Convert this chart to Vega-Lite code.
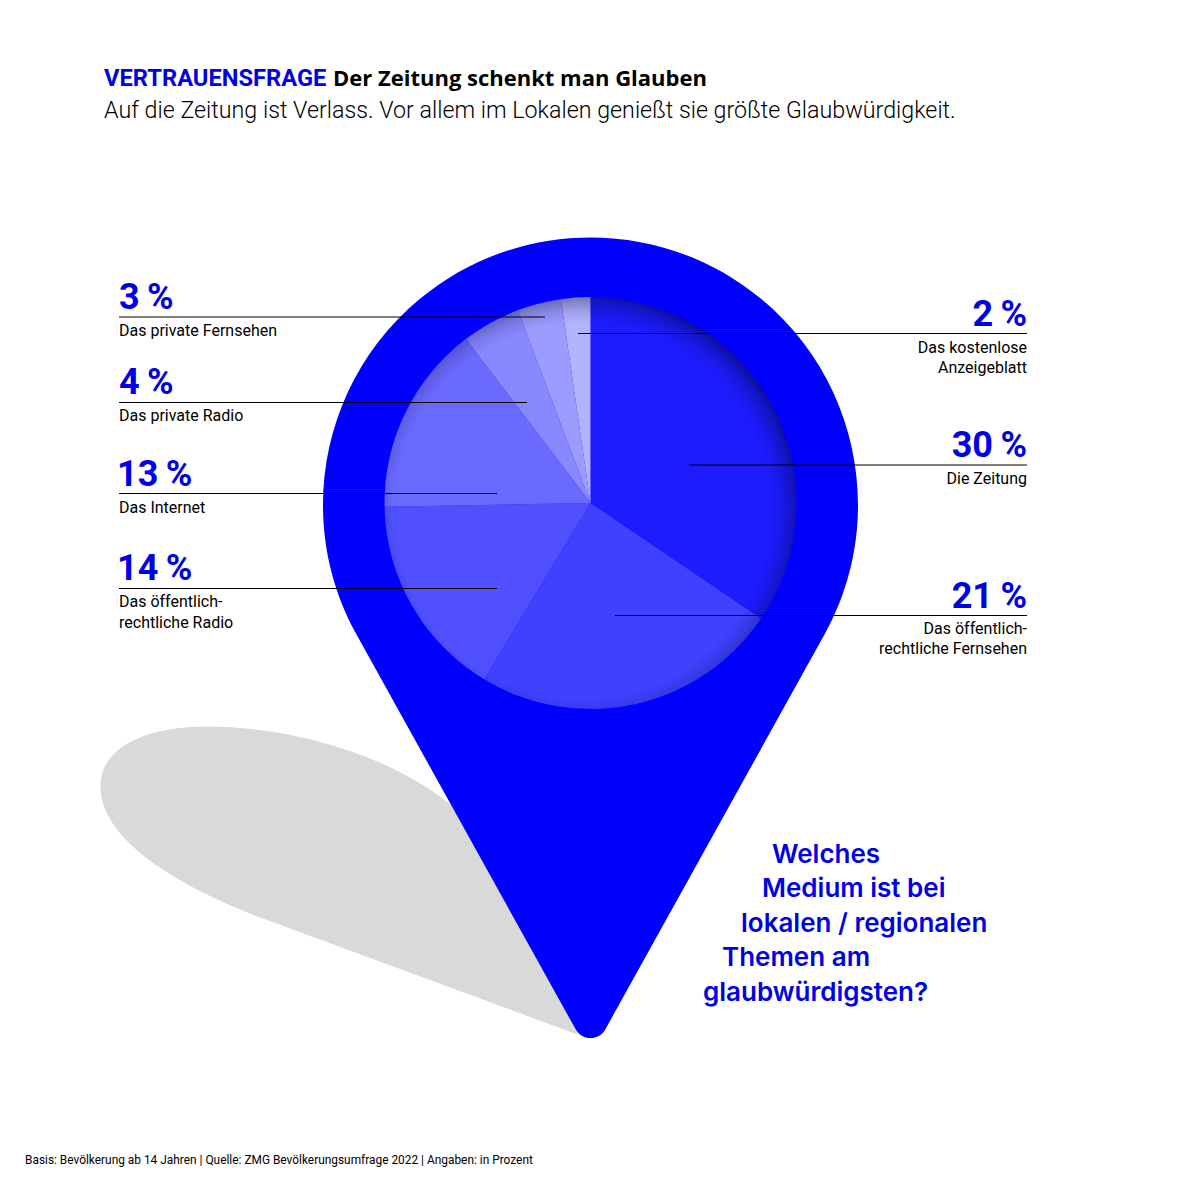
{"$schema":"https://vega.github.io/schema/vega-lite/v6.json","width":1177,"height":1177,"autosize":"none","padding":0,"background":"#ffffff","view":{"stroke":null},
"config":{"axis":{"disable":true}},
"datasets":{
"slices":[{"medium":"Die Zeitung","value":30,"rank":1},{"medium":"Das öffentlich-rechtliche Fernsehen","value":21,"rank":2},{"medium":"Das öffentlich-rechtliche Radio","value":14,"rank":3},{"medium":"Das Internet","value":13,"rank":4},{"medium":"Das private Radio","value":4,"rank":5},{"medium":"Das private Fernsehen","value":3,"rank":6},{"medium":"Das kostenlose Anzeigeblatt","value":2,"rank":7}],
"leaders":[{"medium":"Das private Fernsehen","a":119,"b":545,"c":317},{"medium":"Das private Radio","a":119,"b":527,"c":402.5},{"medium":"Das Internet","a":119,"b":497,"c":493.5},{"medium":"Das öffentlich-rechtliche Radio","a":119,"b":497,"c":588.5},{"medium":"Das kostenlose Anzeigeblatt","a":578,"b":1027,"c":333.5},{"medium":"Die Zeitung","a":689,"b":1027,"c":465},{"medium":"Das öffentlich-rechtliche Fernsehen","a":615,"b":1027,"c":615.5}],
"pctL":[{"t":"3\u2009%","a":119,"c":309},{"t":"4\u2009%","a":119,"c":394},{"t":"13\u2009%","a":117,"c":486},{"t":"14\u2009%","a":117,"c":580}],
"pctR":[{"t":"2\u2009%","a":1027,"c":326},{"t":"30\u2009%","a":1027,"c":457},{"t":"21\u2009%","a":1027,"c":608}],
"capL":[{"t":"Das private Fernsehen","a":119,"c":336},{"t":"Das private Radio","a":119,"c":421},{"t":"Das Internet","a":119,"c":513},{"t":"Das öffentlich-","a":119,"c":607},{"t":"rechtliche Radio","a":119,"c":628}],
"capR":[{"t":"Das kostenlose","a":1027,"c":353},{"t":"Anzeigeblatt","a":1027,"c":373},{"t":"Die Zeitung","a":1027,"c":484},{"t":"Das öffentlich-","a":1027,"c":634},{"t":"rechtliche Fernsehen","a":1027,"c":654}],
"question":[{"t":"Welches","a":772,"c":863},{"t":"Medium ist bei","a":762,"c":897},{"t":"lokalen / regionalen","a":741,"c":932},{"t":"Themen am","a":722,"c":966},{"t":"glaubwürdigsten?","a":703,"c":1001}]
},
"encoding":{
"x":{"field":"a","type":"quantitative","scale":{"domain":[0,1177],"range":[0,1177]},"axis":null},
"y":{"field":"c","type":"quantitative","scale":{"domain":[0,1177],"range":[0,1177]},"axis":null}
},
"layer":[
{"data":{"values":[{"a":590.5,"c":504.5}]},"mark":{"type":"point","filled":true,"opacity":1,"size":4,"fill":"#d9d9d9","stroke":null,"shape":"M-13 530 L-333 412 C-400 386 -490 340 -490 282 C-490 240 -440 222 -384 222 C-300 222 -200 250 -138 302 L-50 450 Z"}},
{"data":{"values":[{"a":590.5,"c":504.5}]},"mark":{"type":"point","filled":true,"opacity":1,"size":4,"fill":"#0000ff","stroke":null,"shape":"M-234.4 129.3 A267.5 267.5 0 1 1 234.4 129.3 L14.9 524.7 A17 17 0 0 1 -14.9 524.7 Z"}},
{"data":{"name":"slices"},"transform":[{"stack":"value","sort":[{"field":"rank","order":"ascending"}],"as":["v0","v1"]},{"calculate":"590.5","as":"a"},{"calculate":"503","as":"c"}],"mark":{"type":"arc","outerRadius":206},
 "encoding":{"x":{"field":"a","type":"quantitative","stack":null,"scale":{"domain":[0,1177],"range":[0,1177]},"axis":null},"y":{"field":"c","type":"quantitative","stack":null,"scale":{"domain":[0,1177],"range":[0,1177]},"axis":null},
 "theta":{"field":"v0","type":"quantitative","stack":null,"scale":{"domain":[0,87],"range":[0,6.28319]}},"theta2":{"field":"v1"},
 "color":{"field":"rank","type":"ordinal","legend":null,"scale":{"domain":[1,2,3,4,5,6,7],"range":["#1c1cff","#4040ff","#5050ff","#6a6aff","#8888ff","#9c9cff","#b3b3ff"]}}}},
{"data":{"values":[{"a":590.5,"c":503}]},"mark":{"type":"arc","outerRadius":206,"theta":0,"theta2":6.2832,"stroke":null,"fill":{"gradient":"radial","x1":0.48,"y1":0.52,"r1":0,"x2":0.48,"y2":0.52,"r2":0.53,"stops":[{"offset":0,"color":"rgba(0,0,40,0)"},{"offset":0.86,"color":"rgba(0,0,40,0)"},{"offset":0.92,"color":"rgba(0,0,40,0.12)"},{"offset":0.97,"color":"rgba(0,0,40,0.3)"},{"offset":1,"color":"rgba(0,0,40,0.55)"}]}}},
{"data":{"name":"leaders"},"mark":{"type":"rule","color":"#000000","strokeWidth":1},"encoding":{"x2":{"field":"b"}, "x":{"field":"a","type":"quantitative","scale":{"domain":[0,1177],"range":[0,1177]},"axis":null}}},
{"data":{"name":"pctL"},"mark":{"type":"text","align":"left","baseline":"alphabetic","font":"Roboto","fontWeight":"bold","fontSize":36,"fill":"#0000e6"},"encoding":{"text":{"field":"t"}}},
{"data":{"name":"pctR"},"mark":{"type":"text","align":"right","baseline":"alphabetic","font":"Roboto","fontWeight":"bold","fontSize":36,"fill":"#0000e6"},"encoding":{"text":{"field":"t"}}},
{"data":{"name":"capL"},"mark":{"type":"text","align":"left","baseline":"alphabetic","font":"Roboto","fontSize":16,"fill":"#000000"},"encoding":{"text":{"field":"t"}}},
{"data":{"name":"capR"},"mark":{"type":"text","align":"right","baseline":"alphabetic","font":"Roboto","fontSize":16,"fill":"#000000"},"encoding":{"text":{"field":"t"}}},
{"data":{"name":"question"},"mark":{"type":"text","align":"left","baseline":"alphabetic","font":"Inter","fontWeight":600,"fontSize":26,"fill":"#0000e6"},"encoding":{"text":{"field":"t"}}},
{"data":{"values":[{"t":"VERTRAUENSFRAGE","a":104,"c":86}]},"mark":{"type":"text","align":"left","baseline":"alphabetic","font":"Roboto","fontWeight":"bold","fontSize":23.7,"fill":"#0000e6"},"encoding":{"text":{"field":"t"}}},
{"data":{"values":[{"t":"Der Zeitung schenkt man Glauben","a":333,"c":86}]},"mark":{"type":"text","align":"left","baseline":"alphabetic","font":"Open Sans","fontWeight":"bold","fontSize":22,"fill":"#000000"},"encoding":{"text":{"field":"t"}}},
{"data":{"values":[{"t":"Auf die Zeitung ist Verlass. Vor allem im Lokalen genießt sie größte Glaubwürdigkeit.","a":104,"c":118}]},"mark":{"type":"text","align":"left","baseline":"alphabetic","font":"Roboto","fontWeight":300,"fontSize":23.25,"fill":"#000000"},"encoding":{"text":{"field":"t"}}},
{"data":{"values":[{"t":"Basis: Bevölkerung ab 14 Jahren | Quelle: ZMG Bevölkerungsumfrage 2022 | Angaben: in Prozent","a":25,"c":1164}]},"mark":{"type":"text","align":"left","baseline":"alphabetic","font":"Roboto","fontSize":11.9,"fill":"#000000"},"encoding":{"text":{"field":"t"}}}
]}
